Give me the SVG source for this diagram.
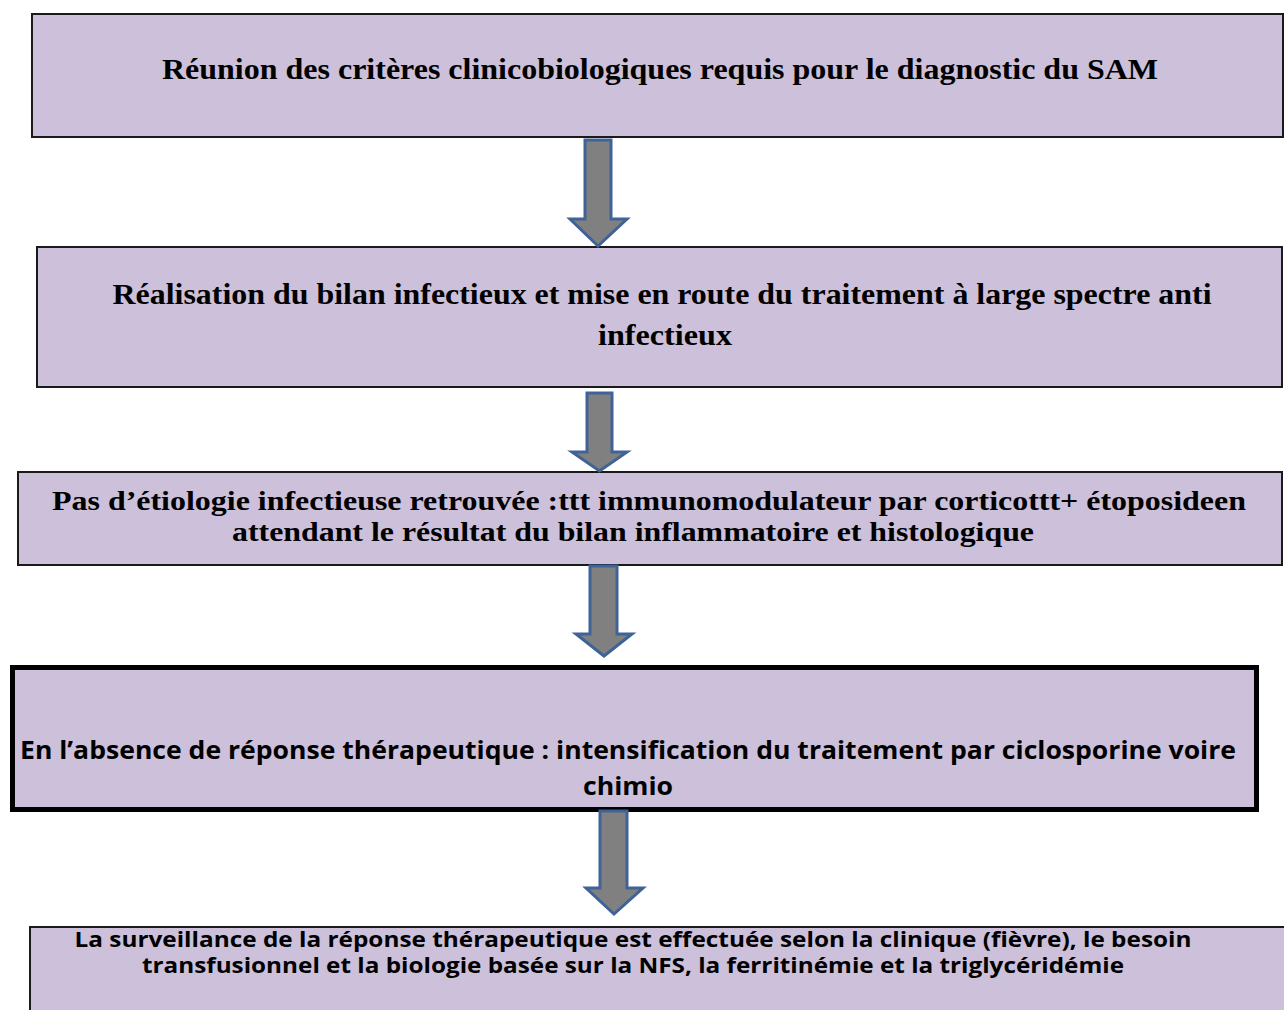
<svg xmlns="http://www.w3.org/2000/svg" width="1284" height="1010" viewBox="0 0 1284 1010">
<style>
.box{fill:#CCC0DA;stroke:#1a1a1a;stroke-width:2}
.thick{stroke:#000;stroke-width:5}
.serif{font-family:"Liberation Serif","Times New Roman",serif;font-weight:bold;fill:#000}
.sans{font-family:"Open Sans","Noto Sans","Liberation Sans",sans-serif;font-weight:bold;fill:#000}
.arrow{fill:#808080;stroke:#3F6396;stroke-width:3;stroke-linejoin:miter}
</style>
<rect width="1284" height="1010" fill="#fff"/>
<g id="node1">
<rect class="box" x="32" y="14" width="1251" height="123"/>
<text class="serif" x="660" y="79" font-size="30" text-anchor="middle" textLength="996" lengthAdjust="spacingAndGlyphs">Réunion des critères clinicobiologiques requis pour le diagnostic du SAM</text>
</g>
<g id="node2">
<rect class="box" x="37" y="247" width="1245" height="140"/>
<text class="serif" x="662" y="304" font-size="30" text-anchor="middle" textLength="1099" lengthAdjust="spacingAndGlyphs">Réalisation du bilan infectieux et mise en route du traitement à large spectre anti</text>
<text class="serif" x="665" y="345" font-size="30" text-anchor="middle" textLength="134" lengthAdjust="spacingAndGlyphs">infectieux</text>
</g>
<g id="node3">
<rect class="box" x="18" y="472" width="1264" height="93"/>
<text class="serif" x="649" y="510" font-size="27" text-anchor="middle" textLength="1194" lengthAdjust="spacingAndGlyphs">Pas d’étiologie infectieuse retrouvée :ttt immunomodulateur par corticottt+ étoposideen</text>
<text class="serif" x="633" y="541" font-size="27" text-anchor="middle" textLength="802" lengthAdjust="spacingAndGlyphs">attendant le résultat du bilan inflammatoire et histologique</text>
</g>
<g id="node4">
<rect class="box thick" x="12.5" y="667.5" width="1244" height="142"/>
<text class="sans" x="628" y="759" font-size="25" text-anchor="middle" textLength="1216" lengthAdjust="spacingAndGlyphs">En l’absence de réponse thérapeutique : intensification du traitement par ciclosporine voire</text>
<text class="sans" x="628" y="795" font-size="25" text-anchor="middle" textLength="90" lengthAdjust="spacingAndGlyphs">chimio</text>
</g>
<g id="node5">
<rect class="box" x="30" y="927" width="1264" height="100"/>
<text class="sans" x="633" y="947" font-size="21" text-anchor="middle" textLength="1117" lengthAdjust="spacingAndGlyphs">La surveillance de la réponse thérapeutique est effectuée selon la clinique (fièvre), le besoin</text>
<text class="sans" x="633" y="973" font-size="21" text-anchor="middle" textLength="982" lengthAdjust="spacingAndGlyphs">transfusionnel et la biologie basée sur la NFS, la ferritinémie et la triglycéridémie</text>
</g>
<g id="connectors">
<polygon class="arrow" points="585,140 611,140 611,219 627,219 598,246 570,219 585,219"/>
<polygon class="arrow" points="587,393 612,393 612,452 627,452 599.5,471 572,452 587,452"/>
<polygon class="arrow" points="590,566 617,566 617,634 632,634 604,656 576,634 590,634"/>
<polygon class="arrow" points="600,811 627,811 627,888 643,888 614,914 586,888 600,888"/>
</g>
</svg>
